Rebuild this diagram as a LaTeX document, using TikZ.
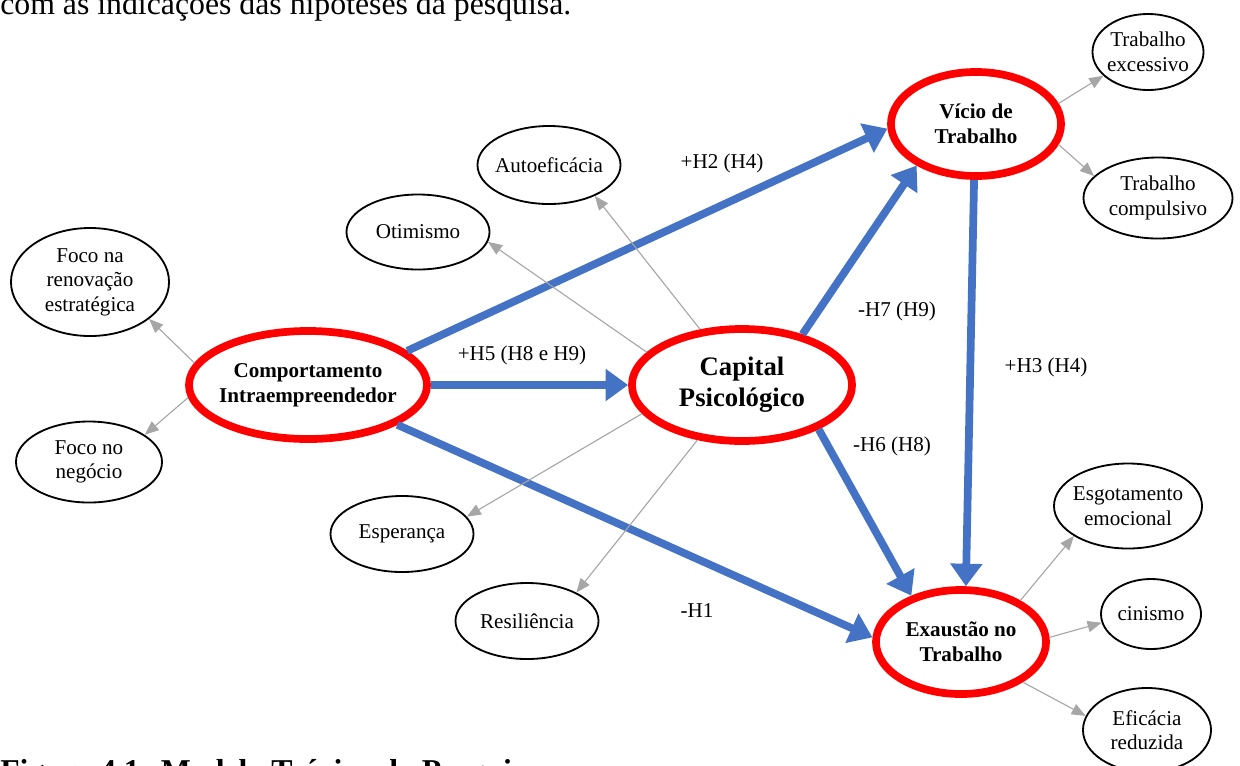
\documentclass[tikz,border=0pt]{standalone}
\usepackage{fontspec}
\setmainfont{Liberation Serif}
\usetikzlibrary{shapes.geometric,arrows.meta}
\definecolor{hypblue}{HTML}{4472C4}
\definecolor{loadgray}{HTML}{A6A6A6}

\begin{document}
\begin{tikzpicture}[x=0.025cm,y=-0.025cm,
  ind/.style={ellipse,draw=black,line width=1.3pt,inner xsep=-3pt,inner ysep=0pt,align=center,font=\fontsize{15}{17.5}\selectfont},
  cons/.style={ellipse,draw=red,line width=5.5pt,fill=white,inner xsep=-4pt,inner ysep=0pt,align=center,font=\fontsize{15}{17.5}\selectfont\bfseries},
  hyp/.style={draw=hypblue,line width=5.5pt,-{Triangle[length=16pt,width=22pt]}},
  load/.style={draw=loadgray,line width=0.8pt,-{Triangle[length=10pt,width=8pt]}},
  lbl/.style={font=\fontsize{15}{17.5}\selectfont}]
\useasboundingbox (0,0) rectangle (1240,765);

% text of the page round the figure
\node[anchor=base west,inner sep=0pt,font=\fontsize{22.6}{26}\selectfont] (intro) at (0,14) {com as indicações das hipóteses da pesquisa.};
\node[anchor=base west,inner sep=0pt,font=\fontsize{22.6}{26}\selectfont\bfseries] (caption) at (0,781) {Figura 4.1: Modelo Teórico da Pesquisa};

% constructs
\node[cons,minimum width=5.95cm,minimum height=2.7cm] (intra) at (308,385) {Comportamento\\Intraempreendedor};
\node[cons,minimum width=5.5cm,minimum height=2.8cm,font=\fontsize{19}{22}\selectfont\bfseries] (capital) at (742,385) {Capital\\Psicológico};
\node[cons,minimum width=4.25cm,minimum height=2.6cm] (vicio) at (976,124) {Vício de\\Trabalho};
\node[cons,minimum width=4.25cm,minimum height=2.6cm] (exaustao) at (961,642) {Exaustão no\\Trabalho};

% indicators
\node[ind,minimum width=3.95cm,minimum height=2.7cm] (renovacao) at (90,282) {Foco na\\renovação\\estratégica};
\node[ind,minimum width=3.65cm,minimum height=2.025cm] (negocio) at (89,462) {Foco no\\negócio};
\node[ind,minimum width=3.575cm,minimum height=1.875cm] (otimismo) at (418,232) {Otimismo};
\node[ind,minimum width=3.575cm,minimum height=1.95cm] (autoef) at (549,165) {Autoeficácia};
\node[ind,minimum width=3.575cm,minimum height=1.9cm] (esperanca) at (402,534) {Esperança};
\node[ind,minimum width=3.575cm,minimum height=1.9cm] (resiliencia) at (527,621) {Resiliência};
\node[ind,minimum width=2.775cm,minimum height=1.9cm] (excessivo) at (1148,52) {Trabalho\\excessivo};
\node[ind,minimum width=3.725cm,minimum height=2.025cm] (compulsivo) at (1158,198) {Trabalho\\compulsivo};
\node[ind,minimum width=3.7cm,minimum height=2.125cm] (esgot) at (1128,506) {Esgotamento\\emocional};
\node[ind,minimum width=2.5cm,minimum height=1.75cm] (cinismo) at (1151,614) {cinismo};
\node[ind,minimum width=3.2cm,minimum height=2.1cm] (eficacia) at (1147,730) {Eficácia\\reduzida};

% hypotheses
\draw[hyp] (intra.19) -- (vicio.183);
\draw[hyp] (intra.east) -- (capital.west);
\draw[hyp] (intra.-24) -- (exaustao.177);
\draw[hyp] (capital.40) -- (vicio.215);
\draw[hyp] (capital.-30) -- (exaustao.137);
\draw[hyp] (vicio.268) -- (exaustao.85);

\node[lbl] (h2) at (722,163) {+H2 (H4)};
\node[lbl] (h5) at (522,355) {+H5 (H8 e H9)};
\node[lbl] (h7) at (897,311) {-H7 (H9)};
\node[lbl] (h3) at (1046,367) {+H3 (H4)};
\node[lbl] (h6) at (892,446) {-H6 (H8)};
\node[lbl] (h1) at (697,611) {-H1};

% loadings
\draw[load] (intra.169) -- (renovacao.-32);
\draw[load] (intra.186) -- (negocio.26);
\draw[load] (capital.161) -- (otimismo.-8);
\draw[load] (capital.127) -- (autoef.-34);
\draw[load] (capital.196) -- (esperanca.15);
\draw[load] (capital.231) -- (resiliencia.30);
\draw[load] (vicio.14) -- (excessivo.208);
\draw[load] (vicio.-14) -- (compulsivo.161);
\draw[load] (exaustao.35) -- (esgot.209);
\draw[load] (exaustao.3) -- (cinismo.190);
\draw[load] (exaustao.-33) -- (eficacia.167);
\end{tikzpicture}
\end{document}
